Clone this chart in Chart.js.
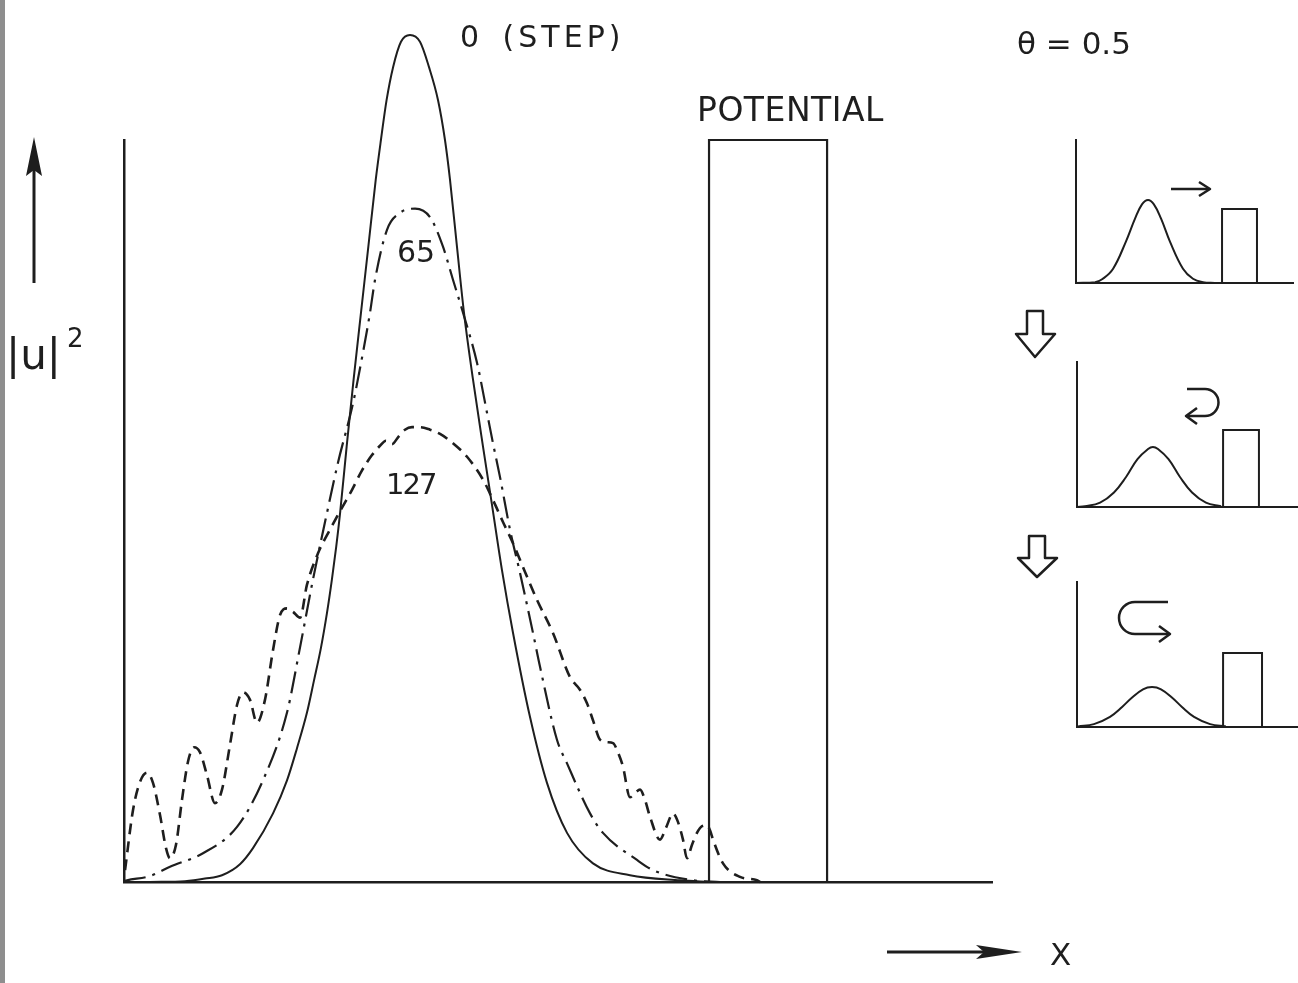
<!DOCTYPE html>
<html>
<head>
<meta charset="utf-8">
<script src="https://cdn.jsdelivr.net/npm/chart.js@4.4.1/dist/chart.umd.min.js"></script>
<style>
  body { margin: 0; background: #fff; }
  #wrap { position: relative; width: 1298px; height: 983px; overflow: hidden; background: #fff; }
  canvas { position: absolute; }
  .lbl { position: absolute; font-family: "DejaVu Sans", "Liberation Sans", sans-serif; color: #1e1e1e; line-height: 1; white-space: pre; }
  #edge { position: absolute; left: 0; top: 0; width: 5px; height: 983px; background: #8e8e8e; }
</style>
</head>
<body>
<div id="wrap">
  <canvas id="main" width="1298" height="983" style="left:0;top:0"></canvas>
  <canvas id="inset1" width="238" height="180" style="left:1060px;top:120px"></canvas>
  <canvas id="inset2" width="238" height="180" style="left:1060px;top:345px"></canvas>
  <canvas id="inset3" width="238" height="180" style="left:1060px;top:565px"></canvas>
  <div id="edge"></div>
  <div class="lbl" style="left:460px;top:22px;font-size:30px;letter-spacing:4px;word-spacing:6px">0 (STEP)</div>
  <div class="lbl" style="left:697px;top:93px;font-size:33px;letter-spacing:0.5px">POTENTIAL</div>
  <div class="lbl" style="left:1017px;top:28px;font-size:31px">θ = 0.5</div>
  <div class="lbl" style="left:397px;top:237px;font-size:30px">65</div>
  <div class="lbl" style="left:386px;top:470px;font-size:29px;letter-spacing:-2px">127</div>
  <div class="lbl" style="left:6px;top:334px;font-size:42px">|u|</div>
  <div class="lbl" style="left:67px;top:325px;font-size:26px">2</div>
  <div class="lbl" style="left:1050px;top:939px;font-size:31px">X</div>
</div>
<script>
// main plot: x in arbitrary units (0..100 along the axis), |u|^2 normalised to the step-0 peak
const step0X = [3.0, 7.03, 9.33, 11.29, 13.36, 14.86, 17.17, 18.78, 19.93, 21.08, 21.89, 22.70, 23.39, 23.95, 24.45, 24.90, 25.65, 26.45, 27.30, 28.15, 29.00, 29.60, 30.25, 31.00, 31.91, 32.95, 34.10, 35.14, 36.18, 36.98, 37.56, 38.36, 39.17, 40.21, 41.36, 42.40, 43.55, 44.82, 46.77, 48.73, 51.04, 54.03, 58.29, 64.06, 67.51];
const step0Y = [0, 0.001, 0.004, 0.008, 0.021, 0.040, 0.081, 0.120, 0.158, 0.200, 0.238, 0.277, 0.318, 0.357, 0.396, 0.436, 0.514, 0.593, 0.672, 0.750, 0.829, 0.876, 0.923, 0.962, 0.992, 1.0, 0.992, 0.962, 0.923, 0.876, 0.829, 0.750, 0.672, 0.593, 0.514, 0.445, 0.368, 0.294, 0.195, 0.117, 0.058, 0.022, 0.008, 0.002, 0];

const t65X = [0, 0.35, 3.0, 5.30, 9.10, 13.02, 16.01, 18.78, 20.28, 21.77, 23.39, 24.65, 26.38, 27.53, 28.34, 28.92, 30.30, 31.80, 33.53, 35.25, 36.75, 37.90, 39.06, 40.67, 41.82, 42.51, 43.32, 44.47, 45.62, 47.12, 47.93, 49.88, 51.04, 53.69, 55.18, 59.10, 60.94, 65.55, 68.66];
const t65Y = [0.001, 0.002, 0.007, 0.018, 0.034, 0.065, 0.120, 0.200, 0.277, 0.357, 0.436, 0.495, 0.565, 0.625, 0.672, 0.711, 0.770, 0.790, 0.795, 0.785, 0.750, 0.711, 0.672, 0.613, 0.554, 0.518, 0.478, 0.416, 0.365, 0.294, 0.254, 0.168, 0.140, 0.081, 0.058, 0.026, 0.014, 0.002, 0];

const t127X = [0.12, 1.04, 1.84, 2.65, 3.34, 4.15, 4.84, 5.30, 5.99, 6.68, 7.37, 8.06, 8.76, 9.56, 10.48, 11.29, 12.21, 13.02, 13.71, 14.52, 15.32, 16.24, 17.17, 17.97, 18.78, 19.47, 20.28, 21.08, 22.35, 23.73, 25.12, 26.27, 27.42, 28.57, 29.49, 30.18, 30.88, 31.57, 32.37, 33.18, 34.10, 35.25, 36.41, 37.90, 39.52, 41.36, 42.51, 43.66, 44.82, 46.20, 47.58, 49.42, 51.38, 52.53, 53.34, 54.03, 54.84, 55.65, 56.34, 56.91, 57.49, 58.29, 58.87, 59.45, 60.02, 60.60, 61.75, 62.44, 63.25, 63.82, 64.40, 64.86, 65.44, 66.01, 66.59, 67.17, 67.51, 67.86, 69.01, 70.97, 72.93, 73.27];
const t127Y = [0.014, 0.085, 0.118, 0.129, 0.117, 0.079, 0.040, 0.028, 0.044, 0.097, 0.142, 0.159, 0.153, 0.126, 0.093, 0.109, 0.162, 0.209, 0.224, 0.215, 0.188, 0.215, 0.274, 0.315, 0.323, 0.319, 0.312, 0.351, 0.388, 0.416, 0.442, 0.463, 0.486, 0.504, 0.515, 0.521, 0.517, 0.525, 0.534, 0.537, 0.537, 0.534, 0.529, 0.518, 0.502, 0.475, 0.451, 0.425, 0.400, 0.366, 0.333, 0.294, 0.242, 0.227, 0.211, 0.191, 0.168, 0.165, 0.164, 0.153, 0.136, 0.100, 0.105, 0.109, 0.097, 0.077, 0.050, 0.064, 0.081, 0.071, 0.050, 0.028, 0.044, 0.058, 0.066, 0.067, 0.061, 0.050, 0.022, 0.006, 0.002, 0];

// potential barrier outline
const potX = [67.4, 67.4, 81.0, 81.0];
const potY = [0, 0.876, 0.876, 0];

// insets (x 0..10, y 0..1)
const in1X = [0, 0.88, 1.24, 1.71, 2.30, 2.72, 3.04, 3.32, 3.59, 3.92, 4.33, 4.93, 5.39, 5.85, 6.40];
const in1Y = [0, 0.006, 0.03, 0.10, 0.29, 0.45, 0.55, 0.58, 0.55, 0.45, 0.29, 0.10, 0.03, 0.006, 0];
const in2X = [0, 0.36, 1.05, 1.68, 2.23, 2.75, 3.23, 3.45, 3.68, 4.16, 4.68, 5.23, 5.86, 6.55];
const in2Y = [0, 0.005, 0.03, 0.10, 0.207, 0.33, 0.40, 0.414, 0.40, 0.33, 0.207, 0.10, 0.03, 0.005];
const in3X = [0.05, 0.77, 1.5, 2.05, 2.48, 3.0, 3.41, 3.82, 4.34, 4.77, 5.32, 6.05, 6.77];
const in3Y = [0.004, 0.02, 0.07, 0.138, 0.2, 0.26, 0.276, 0.26, 0.2, 0.138, 0.07, 0.02, 0.004];
const barX1 = [6.73, 8.34], barH1 = 0.517;
const barX2 = [6.64, 8.27], barH2 = 0.531;
const barX3 = [6.64, 8.41], barH3 = 0.51;

const ink = '#1e1e1e';

const pts = (xs, ys) => xs.map((x, i) => ({ x: x, y: ys[i] }));
const boxPts = (bx, h) => pts([bx[0], bx[0], bx[1], bx[1]], [0, h, h, 0]);

const lineBase = { showLine: true, pointRadius: 0, borderColor: ink, backgroundColor: 'rgba(0,0,0,0)', fill: false };

const hiddenAxis = (min, max) => ({
    type: 'linear', min: min, max: max,
    grid: { display: false, drawTicks: false },
    ticks: { display: false },
    border: { display: true, color: ink, width: 2.5 }
});

// arrows and other drawn decorations (not data)
const arrowsPlugin = {
    id: 'arrows',
    afterDraw(chart) {
        const ctx = chart.ctx;
        ctx.save();
        ctx.strokeStyle = ink;
        ctx.fillStyle = ink;
        ctx.lineWidth = 3;
        ctx.lineJoin = 'round';

        // up arrow beside |u|^2
        ctx.beginPath(); ctx.moveTo(34, 283); ctx.lineTo(34, 165); ctx.stroke();
        ctx.beginPath(); ctx.moveTo(34, 137); ctx.lineTo(26, 176); ctx.lineTo(34, 170); ctx.lineTo(42, 176); ctx.closePath(); ctx.fill();

        // x arrow
        ctx.beginPath(); ctx.moveTo(887, 952); ctx.lineTo(985, 952); ctx.stroke();
        ctx.beginPath(); ctx.moveTo(1022, 952); ctx.lineTo(976, 945); ctx.lineTo(984, 952); ctx.lineTo(976, 959); ctx.closePath(); ctx.fill();

        ctx.lineWidth = 2.5;
        // hollow down arrows between insets
        const hollow = (x1, x2, hx1, hx2, y0, y1, tx, ty) => {
            ctx.beginPath();
            ctx.moveTo(x1, y0); ctx.lineTo(x2, y0); ctx.lineTo(x2, y1); ctx.lineTo(hx2, y1);
            ctx.lineTo(tx, ty); ctx.lineTo(hx1, y1); ctx.lineTo(x1, y1); ctx.closePath();
            ctx.stroke();
        };
        hollow(1027, 1043, 1016, 1055, 311, 334, 1035, 357);
        hollow(1029, 1045, 1018, 1057, 536, 558, 1037, 577);

        // inset 1: straight arrow
        ctx.beginPath(); ctx.moveTo(1171, 189); ctx.lineTo(1209, 189); ctx.stroke();
        ctx.beginPath(); ctx.moveTo(1199, 182); ctx.lineTo(1210, 189); ctx.lineTo(1199, 196); ctx.stroke();

        // inset 2: reflected arrow
        ctx.beginPath(); ctx.moveTo(1187, 389); ctx.lineTo(1205, 389);
        ctx.arc(1205, 402.5, 13.5, -Math.PI / 2, Math.PI / 2, false);
        ctx.lineTo(1188, 416); ctx.stroke();
        ctx.beginPath(); ctx.moveTo(1197, 408); ctx.lineTo(1186, 416); ctx.lineTo(1197, 424); ctx.stroke();

        // inset 3: back-and-forth arrow
        ctx.beginPath(); ctx.moveTo(1168, 602); ctx.lineTo(1135, 602);
        ctx.arc(1135, 618, 16, -Math.PI / 2, Math.PI / 2, true);
        ctx.lineTo(1168, 634); ctx.stroke();
        ctx.beginPath(); ctx.moveTo(1159, 626); ctx.lineTo(1170, 634); ctx.lineTo(1159, 642); ctx.stroke();

        ctx.restore();
    }
};

new Chart(document.getElementById('main'), {
    type: 'scatter',
    data: {
        datasets: [
            { ...lineBase, label: '0 (STEP)', data: pts(step0X, step0Y), borderWidth: 2, cubicInterpolationMode: 'monotone', clip: false },
            { ...lineBase, label: '65', data: pts(t65X, t65Y), borderWidth: 2.2, borderDash: [22, 7, 3, 7], cubicInterpolationMode: 'monotone', clip: false },
            { ...lineBase, label: '127', data: pts(t127X, t127Y), borderWidth: 2.6, borderDash: [11, 7], cubicInterpolationMode: 'monotone', clip: false },
            { ...lineBase, label: 'POTENTIAL', data: pts(potX, potY), borderWidth: 2.2, tension: 0, clip: false }
        ]
    },
    options: {
        responsive: false,
        animation: false,
        events: [],
        layout: { padding: { left: 124, right: 306, top: 140, bottom: 101 } },
        scales: {
            x: hiddenAxis(0, 100),
            y: hiddenAxis(0, 0.876)
        },
        plugins: { legend: { display: false }, tooltip: { enabled: false } }
    },
    plugins: [arrowsPlugin]
});

const makeInset = (id, xs, ys, bx, bh, pad) => {
    return new Chart(document.getElementById(id), {
        type: 'scatter',
        data: {
            datasets: [
                { ...lineBase, data: pts(xs, ys), borderWidth: 2, tension: 0.4, clip: false },
                { ...lineBase, data: boxPts(bx, bh), borderWidth: 2, tension: 0, clip: false }
            ]
        },
        options: {
            responsive: false,
            animation: false,
            events: [],
            layout: { padding: pad },
            scales: {
                x: { ...hiddenAxis(0, 10), border: { display: true, color: ink, width: 2 } },
                y: { ...hiddenAxis(0, 1), border: { display: true, color: ink, width: 2 } }
            },
            plugins: { legend: { display: false }, tooltip: { enabled: false } }
        }
    });
};

makeInset('inset1', in1X, in1Y, barX1, barH1, { left: 16, right: 5, top: 20, bottom: 17 });
makeInset('inset2', in2X, in2Y, barX2, barH2, { left: 17, right: 1, top: 17, bottom: 18 });
makeInset('inset3', in3X, in3Y, barX3, barH3, { left: 17, right: 1, top: 17, bottom: 18 });
</script>
</body>
</html>
